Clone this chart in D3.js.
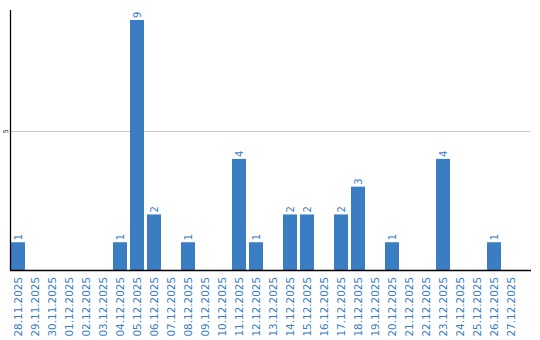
<!DOCTYPE html>
<html>
<head>
<meta charset="utf-8">
<script src="https://cdn.jsdelivr.net/npm/d3@7"></script>
<style>
  body { margin: 0; background: #fff; }
  svg { display: block; }
  text { font-family: "DejaVu Sans", Verdana, sans-serif; }
</style>
</head>
<body>
<div id="chart"></div>
<script>
// Dates and counts
const dates = ["28.11.2025", "29.11.2025", "30.11.2025", "01.12.2025", "02.12.2025",
  "03.12.2025", "04.12.2025", "05.12.2025", "06.12.2025", "07.12.2025",
  "08.12.2025", "09.12.2025", "10.12.2025", "11.12.2025", "12.12.2025",
  "13.12.2025", "14.12.2025", "15.12.2025", "16.12.2025", "17.12.2025",
  "18.12.2025", "19.12.2025", "20.12.2025", "21.12.2025", "22.12.2025",
  "23.12.2025", "24.12.2025", "25.12.2025", "26.12.2025", "27.12.2025"];
const counts = [1, 0, 0, 0, 0, 0, 1, 9, 2, 0,
  1, 0, 0, 4, 1, 0, 2, 2, 0, 2,
  3, 0, 1, 0, 0, 4, 0, 0, 1, 0];
const yTicks = [5];

const width = 540, height = 340;
const blue = "#3a7dc3";

const svg = d3.select("#chart").append("svg")
  .attr("width", width)
  .attr("height", height);

// scales
const x = d3.scaleBand()
  .domain(dates)
  .range([11, 518])
  .paddingInner(3 / 17)
  .paddingOuter(0);

const y = d3.scaleLinear()
  .domain([0, 9])
  .range([270, 20]);

// gridline at 5
svg.append("g")
  .selectAll("line")
  .data(yTicks)
  .join("line")
  .attr("x1", 11)
  .attr("x2", 530)
  .attr("y1", d => Math.round(y(d)) + 0.5)
  .attr("y2", d => Math.round(y(d)) + 0.5)
  .attr("stroke", "#c8c8c8")
  .attr("stroke-width", 1);

// y tick labels (rotated)
svg.append("g")
  .selectAll("text")
  .data(yTicks)
  .join("text")
  .attr("transform", d => `translate(7.5,${y(d)}) rotate(-90)`)
  .attr("text-anchor", "middle")
  .attr("font-size", 6.5)
  .attr("fill", "#000")
  .text(d => d);

// bars
const data = dates.map((d, i) => ({ date: d, count: counts[i] }));
svg.append("g")
  .selectAll("rect")
  .data(data.filter(d => d.count > 0))
  .join("rect")
  .attr("x", d => x(d.date))
  .attr("y", d => y(d.count))
  .attr("width", x.bandwidth())
  .attr("height", d => y(0) - y(d.count))
  .attr("fill", blue);

// value labels
svg.append("g")
  .selectAll("text")
  .data(data.filter(d => d.count > 0))
  .join("text")
  .attr("transform", d => `translate(${x(d.date) + x.bandwidth() / 2 + 3.5},${y(d.count) - 2}) rotate(-90)`)
  .attr("text-anchor", "start")
  .attr("font-size", 10)
  .attr("fill", blue)
  .text(d => d.count);

// x axis labels
const xAxis = d3.axisBottom(x).tickSize(0).tickPadding(0);
const xg = svg.append("g")
  .attr("transform", "translate(0,270)")
  .call(xAxis);
xg.select(".domain").remove();
xg.selectAll("text")
  .attr("transform", "translate(3.7,7) rotate(-90)")
  .attr("text-anchor", "end")
  .attr("dy", 0)
  .attr("y", 0)
  .attr("x", 0)
  .attr("font-size", 10.4)
  .attr("font-family", "DejaVu Sans, Verdana, sans-serif")
  .attr("fill", blue);

// axis lines
svg.append("line")
  .attr("x1", 10.5).attr("x2", 10.5)
  .attr("y1", 10).attr("y2", 270.5)
  .attr("stroke", "#000").attr("stroke-width", 1.3);
svg.append("line")
  .attr("x1", 10).attr("x2", 531)
  .attr("y1", 270.5).attr("y2", 270.5)
  .attr("stroke", "#000").attr("stroke-width", 1.3);
</script>
</body>
</html>
